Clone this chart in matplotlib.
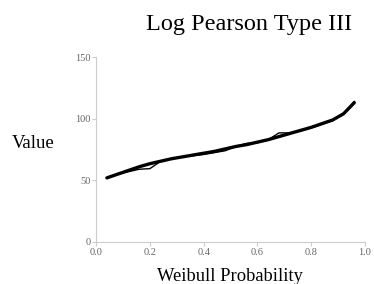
import matplotlib
matplotlib.use('Agg')
import matplotlib.pyplot as plt

plt.rcParams['font.family'] = ['Liberation Serif', 'DejaVu Serif']

# Weibull plotting positions, i/(n+1) with n = 24
prob = [0.04, 0.08, 0.12, 0.16, 0.20, 0.24, 0.28, 0.32, 0.36, 0.40, 0.44, 0.48,
        0.52, 0.56, 0.60, 0.64, 0.68, 0.72, 0.76, 0.80, 0.84, 0.88, 0.92, 0.96]

# Fitted Log Pearson Type III values
fitted = [52, 55, 58, 61, 63.5, 65.5, 67.5, 69, 70.5, 72, 73.5, 75.5,
          77.5, 79, 81, 83, 85.5, 88, 90.5, 93, 96, 99, 104, 113]

# Observed values
observed = [52, 55, 57, 59, 59.5, 65.5, 67.5, 69, 70, 71, 72.5, 74,
            77.5, 80, 80.5, 83, 88.5, 88.5, 90, 92.5, 95.5, 98.5, 104, 114]

fig = plt.figure(figsize=(3.74, 2.84), dpi=100)
ax = fig.add_axes([0.257, 0.148, 0.719, 0.651])

ax.plot(prob, fitted, color='black', lw=2.4, solid_capstyle='round')
ax.plot(prob, observed, color='black', lw=1.0)

ax.set_xlim(0, 1)
ax.set_ylim(0, 150)
ax.set_xticks([0.0, 0.2, 0.4, 0.6, 0.8, 1.0])
ax.set_yticks([0, 50, 100, 150])

for side in ['top', 'right']:
    ax.spines[side].set_visible(False)
for side in ['left', 'bottom']:
    ax.spines[side].set_color('#cccccc')
ax.tick_params(colors='#cccccc', labelcolor='#666666', labelsize=7.5, length=3, pad=1)

fig.text(0.667, 0.915, 'Log Pearson Type III', fontsize=17.5, ha='center', va='center')
fig.text(0.088, 0.493, 'Value', fontsize=13.5, ha='center', va='center')
fig.text(0.615, 0.028, 'Weibull Probability', fontsize=13.3, ha='center', va='center')

fig.savefig('out.png', dpi=100)
